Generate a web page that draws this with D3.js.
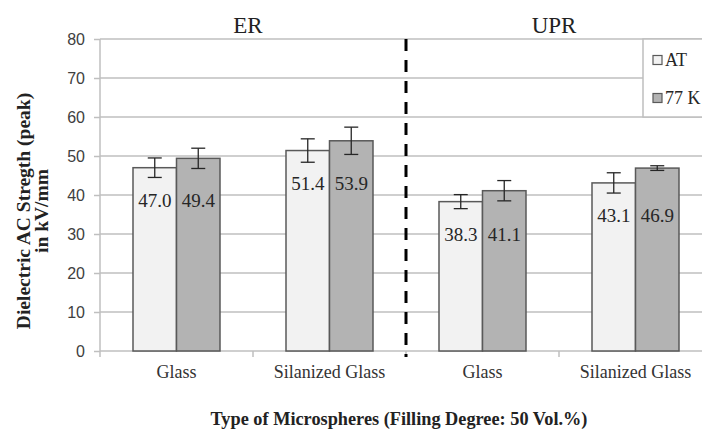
<!DOCTYPE html>
<html>
<head>
<meta charset="utf-8">
<script src="https://cdn.jsdelivr.net/npm/d3@7/dist/d3.min.js"></script>
<style>
  html, body { margin: 0; padding: 0; background: #fff; }
  svg { display: block; }
</style>
</head>
<body>
<svg id="chart" width="702" height="435"></svg>
<script>
// ---- data ----
const categories = ["Glass", "Silanized Glass", "Glass", "Silanized Glass"];
const groups = ["ER", "UPR"];
const seriesNames = ["AT", "77 K"];
const valuesAT = [47.0, 51.4, 38.3, 43.1];
const values77K = [49.4, 53.9, 41.1, 46.9];
const errorsAT = [2.5, 3.0, 1.8, 2.6];
const errors77K = [2.6, 3.5, 2.6, 0.6];
const yTicks = [0, 10, 20, 30, 40, 50, 60, 70, 80];
const yTitleLines = ["Dielectric AC Stregth  (peak)", "in kV/mm"];
const xTitle = "Type of Microspheres (Filling Degree: 50 Vol.%)";

// ---- layout ----
const svg = d3.select("#chart");
const pLeft = 100, pRight = 712, pTop = 39, pBottom = 351;
const serif = "'Liberation Serif', 'Times New Roman', serif";
const sans = "'Liberation Sans', Arial, sans-serif";
const gridColor = "#bfbfbf";
const fills = ["#f2f2f2", "#b3b3b3"];
const barStroke = "#595959";

const idx = d3.range(categories.length);
const x = d3.scaleBand().domain(idx).range([pLeft, pRight]).padding(0);
const barW = 43.5;
const xs = d3.scaleBand().domain([0, 1]).range([-barW, barW]).padding(0);
const y = d3.scaleLinear().domain([0, 80]).range([pBottom, pTop]);

const series = [
  { name: seriesNames[0], values: valuesAT, errors: errorsAT },
  { name: seriesNames[1], values: values77K, errors: errors77K }
];

// gridlines
svg.append("g").selectAll("line").data(yTicks.filter(t => t > 0)).join("line")
  .attr("x1", pLeft).attr("x2", pRight)
  .attr("y1", d => y(d)).attr("y2", d => y(d))
  .attr("stroke", gridColor).attr("stroke-width", 1.5);

// y axis
const yAxis = svg.append("g").attr("transform", `translate(${pLeft},0)`)
  .call(d3.axisLeft(y).tickValues(yTicks).tickSize(6).tickPadding(9).tickFormat(d3.format("d")));
yAxis.select(".domain").attr("stroke", gridColor).attr("stroke-width", 1.5).attr("d", `M0,${pTop}V${pBottom}`);
yAxis.selectAll(".tick line").attr("stroke", gridColor).attr("stroke-width", 1.5);
yAxis.selectAll(".tick text").attr("font-family", sans).attr("font-size", 16).attr("fill", "#404040");

// x axis
const xAxis = svg.append("g").attr("transform", `translate(0,${pBottom})`)
  .call(d3.axisBottom(x).tickSize(0).tickPadding(14).tickFormat(i => categories[i]));
xAxis.select(".domain").attr("stroke", gridColor).attr("stroke-width", 1.5).attr("d", `M${pLeft},0H${pRight}`);
xAxis.selectAll(".tick text").attr("font-family", serif).attr("font-size", 18).attr("fill", "#333");
// boundary ticks
svg.append("g").selectAll("line").data(idx).join("line")
  .attr("x1", d => x(d)).attr("x2", d => x(d))
  .attr("y1", pBottom).attr("y2", pBottom + 6)
  .attr("stroke", gridColor).attr("stroke-width", 1.5);

// bars
const barG = svg.append("g");
series.forEach((s, si) => {
  barG.selectAll(null).data(idx).join("rect")
    .attr("x", d => x(d) + x.bandwidth() / 2 + xs(si))
    .attr("y", d => y(s.values[d]))
    .attr("width", xs.bandwidth())
    .attr("height", d => y(0) - y(s.values[d]))
    .attr("fill", fills[si]).attr("stroke", barStroke).attr("stroke-width", 1.5);
});

// error bars
const capW = 14;
series.forEach((s, si) => {
  const g = svg.append("g").attr("stroke", "#262626").attr("stroke-width", 1.3);
  idx.forEach(d => {
    const cx = x(d) + x.bandwidth() / 2 + xs(si) + xs.bandwidth() / 2;
    const hi = y(s.values[d] + s.errors[d]), lo = y(s.values[d] - s.errors[d]);
    g.append("line").attr("x1", cx).attr("x2", cx).attr("y1", hi).attr("y2", lo);
    g.append("line").attr("x1", cx - capW / 2).attr("x2", cx + capW / 2).attr("y1", hi).attr("y2", hi);
    g.append("line").attr("x1", cx - capW / 2).attr("x2", cx + capW / 2).attr("y1", lo).attr("y2", lo);
  });
});

// data labels (both labels of a group at the same height, below the AT bar top)
series.forEach((s, si) => {
  svg.append("g").selectAll("text").data(idx).join("text")
    .attr("x", d => x(d) + x.bandwidth() / 2 + xs(si) + xs.bandwidth() / 2)
    .attr("y", d => y(valuesAT[d]) + 33)
    .attr("text-anchor", "middle").attr("dominant-baseline", "central")
    .attr("font-family", serif).attr("font-size", 19).attr("fill", "#262626")
    .text(d => s.values[d].toFixed(1));
});

// dashed divider
const mid = x(2);
svg.append("line").attr("x1", mid).attr("x2", mid).attr("y1", pTop).attr("y2", pBottom + 6)
  .attr("stroke", "#000").attr("stroke-width", 3).attr("stroke-dasharray", "12,9");

// group titles
groups.forEach((gName, gi) => {
  const cx = (x(gi * 2) + x(gi * 2 + 1) + x.bandwidth()) / 2;
  svg.append("text").attr("x", cx - 5).attr("y", 33)
    .attr("text-anchor", "middle").attr("font-family", serif).attr("font-size", 23).attr("fill", "#222")
    .text(gName);
});

// legend
const lg = svg.append("g");
lg.append("rect").attr("x", 643).attr("y", pTop).attr("width", 80).attr("height", y(60) - pTop)
  .attr("fill", "#fff").attr("stroke", gridColor).attr("stroke-width", 1.5);
series.forEach((s, si) => {
  const cy = 60 + si * 38;
  lg.append("rect").attr("x", 653).attr("y", cy - 4.5).attr("width", 9).attr("height", 9)
    .attr("fill", fills[si]).attr("stroke", barStroke).attr("stroke-width", 1.2);
  lg.append("text").attr("x", 665).attr("y", cy).attr("dominant-baseline", "central")
    .attr("font-family", serif).attr("font-size", 18).attr("fill", "#262626").text(s.name);
});

// y title
const yt = svg.append("text").attr("transform", "translate(23,211) rotate(-90)")
  .attr("text-anchor", "middle").attr("font-family", serif).attr("font-weight", "bold")
  .attr("font-size", 19.5).attr("fill", "#222");
yTitleLines.forEach((t, i) => {
  yt.append("tspan").attr("x", 0).attr("dy", i === 0 ? 0 : 18).attr("dominant-baseline", "central").text(t);
});

// x title
svg.append("text").attr("x", 399).attr("y", 425).attr("text-anchor", "middle")
  .attr("font-family", serif).attr("font-weight", "bold").attr("font-size", 18.3).attr("fill", "#222")
  .text(xTitle);
</script>
</body>
</html>
